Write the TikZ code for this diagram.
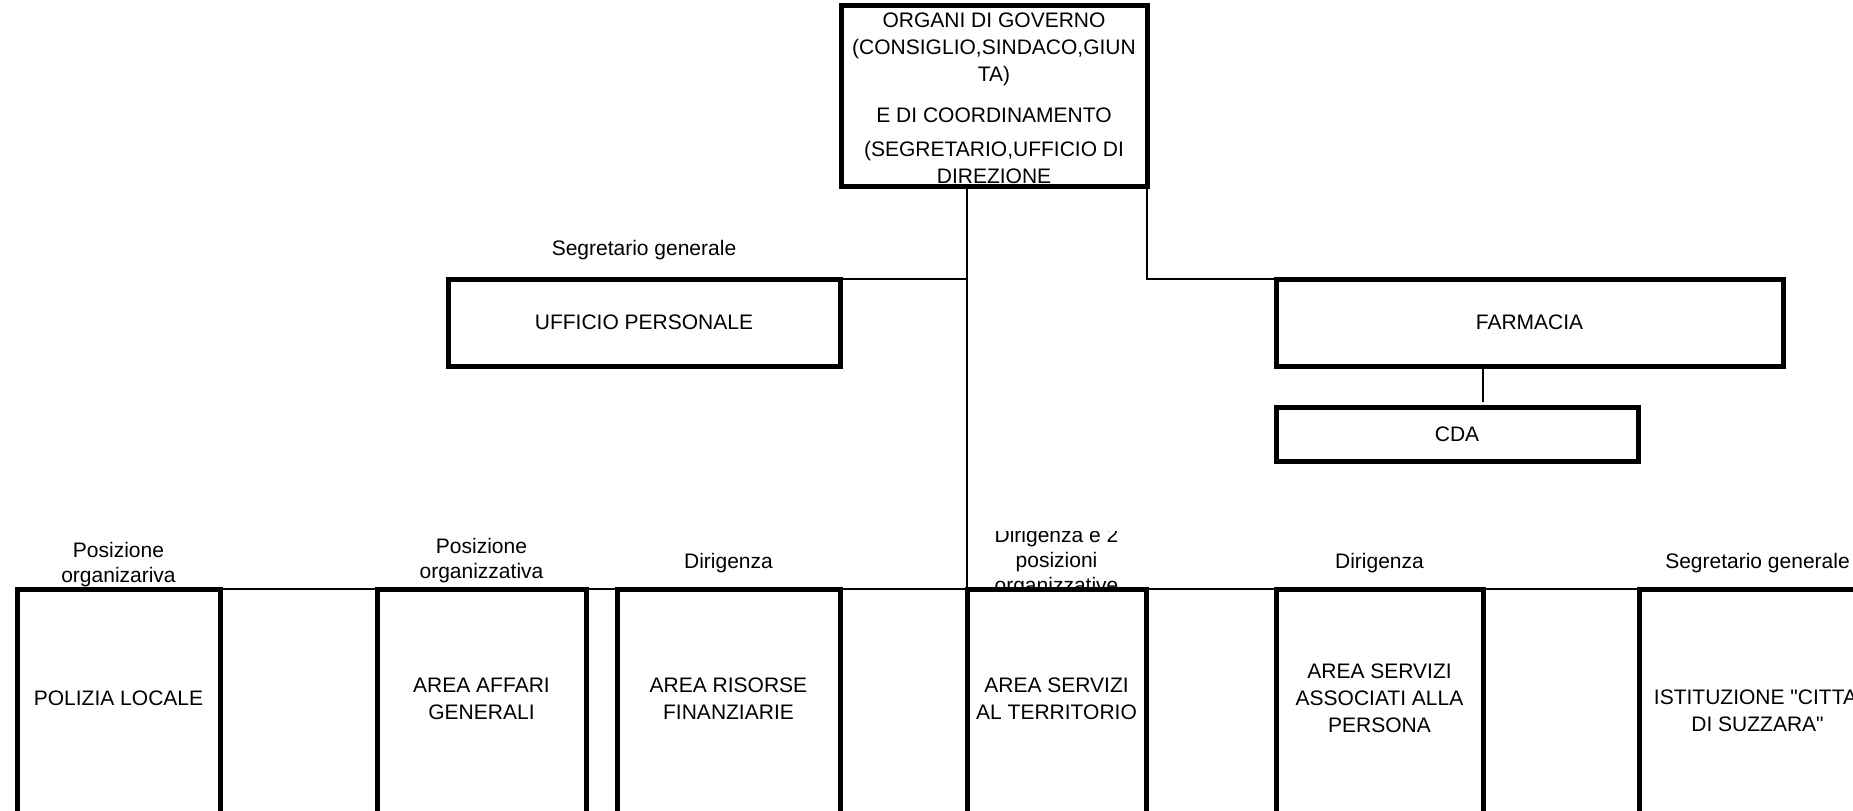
\documentclass[tikz,border=0pt]{standalone}
\usepackage{fontspec}
\newfontfamily\arialfont{Liberation Sans}

\tikzset{
  box/.style={draw, line width=5pt, fill=white, outer sep=0pt, inner sep=0pt, align=center},
  areabox/.style={box, anchor=north, minimum height=240pt},
  caption/.style={align=center, font=\arialfont\fontsize{21}{25}\selectfont},
  wire/.style={line width=2.5pt}
}

\begin{document}
\begin{tikzpicture}[x=1pt, y=-1pt, font=\arialfont\fontsize{21}{27}\selectfont]
      \path[use as bounding box, clip] (0,0) rectangle (1853,811);

      % captions over the offices
      \node[caption, name=capuff] at (644,250.5) {Segretario generale};
      \node[caption, name=cappol] at (118.5,564.5) {Posizione\\organizariva};
      \node[caption, name=capaff] at (481.5,561) {Posizione\\organizzativa};
      \node[caption, name=capris] at (728.5,563.5) {Dirigenza};
      \begin{scope}
         \clip (967,531) rectangle (1147,600);
         \node[caption, name=capter] at (1056.5,562) {Dirigenza e 2\\posizioni\\organizzative};
      \end{scope}
      \node[caption, name=capper] at (1379.5,563.5) {Dirigenza};
      \node[caption, name=capist] at (1757.5,563.5) {Segretario generale};

      \node[box, name=gov, minimum width=306pt, minimum height=181pt] at (994,95.5)
         {\rule{0pt}{21pt}ORGANI DI GOVERNO\\(CONSIGLIO,SINDACO,GIUN\\TA)\\[14pt]E DI COORDINAMENTO\\[7pt](SEGRETARIO,UFFICIO DI\\DIREZIONE};
      \node[box, name=ufficio, minimum width=392pt, minimum height=87pt] at (644,322.5) {UFFICIO PERSONALE};
      \node[box, name=farmacia, minimum width=507pt, minimum height=87pt] at (1529.5,322.5) {FARMACIA};
      \node[box, name=cda, minimum width=362pt, minimum height=54pt] at (1457,434) {CDA};

      \node[areabox, name=polizia, minimum width=203pt] at (118.5,589) {};
      \node[areabox, name=affari, minimum width=209pt] at (481.5,589) {};
      \node[areabox, name=risorse, minimum width=223pt] at (728.5,589) {};
      \node[areabox, name=territorio, minimum width=179pt] at (1056.5,589) {};
      \node[areabox, name=persona, minimum width=207pt] at (1379.5,589) {};
      \node[areabox, name=istituzione, minimum width=237pt] at (1757.5,589) {};

      \node[align=center, name=poltxt] at ([yshift=-109pt]polizia.north) {POLIZIA LOCALE};
      \node[align=center, name=afftxt] at ([yshift=-110pt]affari.north) {AREA AFFARI\\GENERALI};
      \node[align=center, name=ristxt] at ([yshift=-110pt]risorse.north) {AREA RISORSE\\FINANZIARIE};
      \node[align=center, name=tertxt] at ([yshift=-110pt]territorio.north) {AREA SERVIZI\\AL TERRITORIO};
      \node[align=center, name=pertxt] at ([yshift=-109pt]persona.north) {AREA SERVIZI\\ASSOCIATI ALLA\\PERSONA};
      \node[align=center, name=isttxt] at ([yshift=-122pt]istituzione.north) {ISTITUZIONE "CITTA'\\DI SUZZARA"};

      \coordinate (busend) at (1853,589);

      \draw[wire] (gov.south -| territorio.north west) -- (territorio.north west);
      \draw[wire] (ufficio.north east) -- (ufficio.north east -| territorio.west);
      \draw[wire] (gov.south east) |- (farmacia.north west);
      \draw[wire, shorten >=5pt] ([xshift=-46.5pt]farmacia.south) -- ([xshift=26pt]cda.north);
      \draw[wire] (polizia.north west) -- (busend);
   \end{tikzpicture}
\end{document}
